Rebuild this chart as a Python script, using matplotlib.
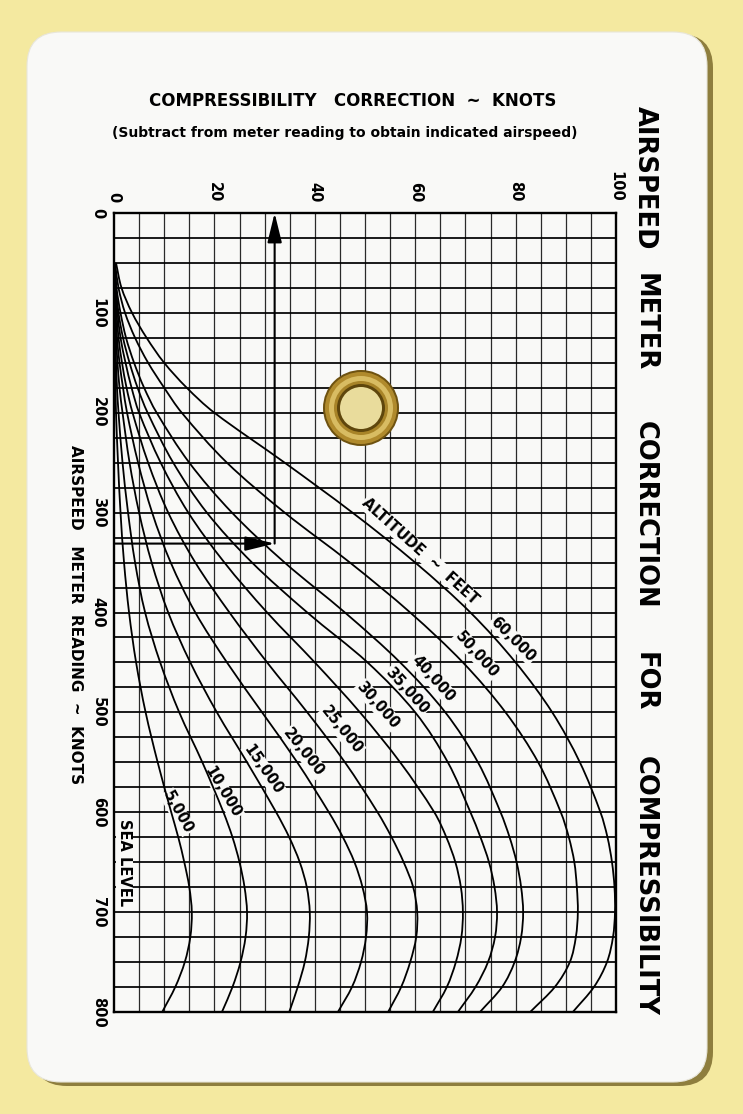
import numpy as np
import matplotlib
matplotlib.use('Agg')
import matplotlib.pyplot as plt
from matplotlib.patches import FancyBboxPatch, Circle, PathPatch
from matplotlib.path import Path

plt.rcParams['font.family'] = ['DejaVu Sans']

# ---------------- data (read from the card) ----------------
airspeed = [50, 75, 100, 125, 150, 175, 200, 250, 300, 350, 400, 450, 500,
            550, 600, 625, 650, 675, 700, 725, 750, 775, 800]

corr_5000 = [0, 0, 0, 0, 0.2, 0.3, 0.4, 0.8, 1.3, 2.0, 3.0, 4.4, 6.3,
             8.7, 11.4, 12.8, 14.0, 15.0, 15.5, 15.2, 14.1, 12.2, 9.6]
corr_10000 = [0, 0, 0, 0.2, 0.4, 0.6, 0.9, 1.7, 2.8, 4.2, 6.2, 9.2, 13.0,
              17.6, 21.8, 23.6, 25.0, 26.0, 26.5, 26.2, 25.2, 23.6, 21.5]
corr_15000 = [0, 0, 0.2, 0.4, 0.7, 1.1, 1.7, 3.1, 5.0, 7.5, 10.8, 15.2, 20.5,
              26.5, 32.3, 34.9, 37.0, 38.4, 39.0, 38.8, 38.0, 36.6, 34.9]
corr_20000 = [0, 0, 0.3, 0.6, 1.1, 1.8, 2.6, 4.8, 7.6, 11.3, 16.2, 22.5, 29.5,
              36.5, 42.8, 45.6, 47.9, 49.5, 50.4, 50.2, 49.2, 47.4, 44.6]
corr_25000 = [0, 0.2, 0.5, 0.9, 1.6, 2.5, 3.7, 6.8, 10.8, 16.2, 23.0, 30.5, 38.5,
              46.0, 52.5, 55.3, 57.7, 59.6, 60.4, 60.2, 59.0, 57.2, 54.6]
corr_30000 = [0, 0.3, 0.7, 1.3, 2.3, 3.5, 5.0, 9.3, 14.8, 22.0, 30.5, 40.0, 49.0,
              57.0, 63.8, 66.2, 68.0, 69.1, 69.5, 69.2, 68.1, 66.3, 63.5]
corr_35000 = [0.1, 0.4, 0.9, 1.8, 3.1, 4.7, 6.7, 11.8, 18.5, 27.5, 38.5, 50.5, 60.0,
              66.5, 71.0, 73.0, 74.7, 75.8, 76.3, 75.9, 74.5, 72.0, 68.5]
corr_40000 = [0.15, 0.5, 1.3, 2.4, 4.0, 6.0, 8.5, 15.0, 23.5, 34.0, 46.0, 57.0, 66.0,
              72.5, 77.0, 78.8, 80.2, 81.1, 81.5, 81.1, 79.8, 77.3, 72.9]
corr_50000 = [0.2, 0.9, 2.2, 4.2, 6.8, 10.0, 13.5, 22.5, 34.0, 47.0, 59.0, 69.5, 78.0,
              84.5, 89.0, 90.6, 91.7, 92.2, 92.4, 92.0, 90.8, 87.8, 82.9]
corr_60000 = [0.4, 1.5, 3.6, 6.5, 10.0, 14.5, 20.0, 34.0, 47.5, 60.0, 71.0, 80.0, 87.3,
              92.8, 96.9, 98.3, 99.2, 99.7, 99.8, 99.4, 98.2, 95.6, 91.4]

curves = [corr_5000, corr_10000, corr_15000, corr_20000, corr_25000,
          corr_30000, corr_35000, corr_40000, corr_50000, corr_60000]

altitude_labels = ['5,000', '10,000', '15,000', '20,000', '25,000',
                   '30,000', '35,000', '40,000', '50,000', '60,000']
label_corr = [12.7, 21.7, 29.7, 37.8, 45.4, 52.6, 58.4, 63.5, 72.3, 79.5]
label_speed = [600, 580, 557, 540, 518, 493, 478, 466, 442, 427]
label_rot = [-61, -59, -55, -52, -51, -49, -48, -48, -48, -45]

x_ticks = [0, 20, 40, 60, 80, 100]
y_ticks = [0, 100, 200, 300, 400, 500, 600, 700, 800]

example_speed = 331
example_corr = 32


def smooth_path(corr, speed):
    """Cubic Hermite curve through the read points, parametrised by airspeed."""
    t = np.asarray(speed, float)
    x = np.asarray(corr, float)
    n = len(t)
    m = np.zeros(n)
    m[0] = (x[1] - x[0]) / (t[1] - t[0])
    m[-1] = (x[-1] - x[-2]) / (t[-1] - t[-2])
    for i in range(1, n - 1):
        m[i] = (x[i + 1] - x[i - 1]) / (t[i + 1] - t[i - 1])
    verts = [(x[0], t[0])]
    codes = [Path.MOVETO]
    for i in range(n - 1):
        h = t[i + 1] - t[i]
        verts += [(x[i] + m[i] * h / 3, t[i] + h / 3),
                  (x[i + 1] - m[i + 1] * h / 3, t[i + 1] - h / 3),
                  (x[i + 1], t[i + 1])]
        codes += [Path.CURVE4] * 3
    return Path(verts, codes)


# ---------------- figure / card ----------------
W, H = 743, 1114
fig = plt.figure(figsize=(W / 100, H / 100), dpi=100)
fig.patch.set_facecolor('#F4E9A0')

bg = fig.add_axes([0, 0, 1, 1])
bg.set_xlim(0, W)
bg.set_ylim(H, 0)
bg.axis('off')

r = 34
shadow = FancyBboxPatch((33 + r, 34 + r), 680 - 2 * r, 1052 - 2 * r,
                        boxstyle=f"round,pad={r}", fc='#8E7E3E', ec='none', zorder=1)
bg.add_patch(shadow)
card = FancyBboxPatch((27 + r, 32 + r), 680 - 2 * r, 1050 - 2 * r,
                      boxstyle=f"round,pad={r}", fc='#F9F9F7', ec='#E8E6DA', lw=0.8, zorder=2)
bg.add_patch(card)

bold = dict(fontweight='bold', color='black')

# top titles
bg.text(353, 101, 'COMPRESSIBILITY   CORRECTION  ~  KNOTS', ha='center', va='center',
        fontsize=12, zorder=5, **bold)
bg.text(345, 133, '(Subtract from meter reading to obtain indicated airspeed)',
        ha='center', va='center', fontsize=10, zorder=5, **bold)

# right title words
for word, yc in [('AIRSPEED', 178), ('METER', 322), ('CORRECTION', 515),
                 ('FOR', 682), ('COMPRESSIBILITY', 886)]:
    bg.text(645, yc, word, rotation=-90, ha='center', va='center',
            fontsize=18.5, zorder=5, **bold)

# left axis label
bg.text(75, 615, 'AIRSPEED   METER  READING  ~  KNOTS', rotation=-90,
        ha='center', va='center', fontsize=11, zorder=5, **bold)

# ---------------- chart ----------------
ax = fig.add_axes([114 / W, 1 - 1012 / H, (616 - 114) / W, (1012 - 213) / H])
ax.set_zorder(3)
ax.patch.set_alpha(0)
ax.set_xlim(0, 100)
ax.set_ylim(800, 0)

for v in np.arange(5, 100, 5):
    ax.axvline(v, color='#2a2a2a', lw=0.9, zorder=1)
for h in np.arange(25, 800, 25):
    ax.axhline(h, color='black', lw=1.25, zorder=1)
for s in ax.spines.values():
    s.set_linewidth(1.7)
    s.set_color('black')

for vals in curves:
    ax.add_patch(PathPatch(smooth_path(vals, airspeed), fc='none', ec='black',
                           lw=1.3, zorder=4, capstyle='butt'))

for lab, cx, cy, rot in zip(altitude_labels, label_corr, label_speed, label_rot):
    ax.text(cx, cy, lab, rotation=rot, rotation_mode='anchor', ha='center', va='center',
            fontsize=10.5, zorder=3,
            bbox=dict(fc='#F9F9F7', ec='none', pad=0.5), **bold)

ax.text(61, 339, 'ALTITUDE  ~  FEET', rotation=-42, rotation_mode='anchor',
        ha='center', va='center', fontsize=10.5, zorder=3,
        bbox=dict(fc='#F9F9F7', ec='none', pad=0.5), **bold)
ax.text(2.1, 650, 'SEA LEVEL', rotation=-90, ha='center', va='center',
        fontsize=10.5, zorder=3, bbox=dict(fc='#F9F9F7', ec='none', pad=0.5), **bold)

# example arrows
ax.annotate('', xy=(example_corr, example_speed), xytext=(0, example_speed),
            arrowprops=dict(arrowstyle='-|>,head_length=0.9,head_width=0.22',
                            color='black', lw=1.5, mutation_scale=20, shrinkA=0, shrinkB=0),
            zorder=5)
ax.annotate('', xy=(example_corr, 0), xytext=(example_corr, example_speed),
            arrowprops=dict(arrowstyle='-|>,head_length=0.9,head_width=0.22',
                            color='black', lw=1.5, mutation_scale=20, shrinkA=0, shrinkB=0),
            zorder=5)

ax.set_xticks(x_ticks)
ax.set_xticklabels([str(t) for t in x_ticks])
ax.xaxis.set_ticks_position('top')
ax.tick_params(axis='x', length=0, pad=8, labelsize=10.5, labelrotation=-90)
ax.set_yticks(y_ticks)
ax.set_yticklabels([str(t) for t in y_ticks])
ax.tick_params(axis='y', length=0, pad=6, labelsize=10.5, labelrotation=-90)
for lbl in ax.get_xticklabels() + ax.get_yticklabels():
    lbl.set_fontweight('bold')
for lbl in ax.get_yticklabels():
    lbl.set_va('center')

# ---------------- eyelet (overlay) ----------------
ov = fig.add_axes([0, 0, 1, 1])
ov.set_zorder(10)
ov.set_xlim(0, W)
ov.set_ylim(H, 0)
ov.axis('off')
ov.patch.set_alpha(0)
cx0, cy0 = 361, 408
for rad, col in [(38, '#6E5210'), (36, '#B08A2C'), (32, '#D8BC62'),
                 (27, '#A88428'), (24, '#5E460C'), (21, '#E9DC9C')]:
    ov.add_patch(Circle((cx0, cy0), rad, fc=col, ec='none'))

fig.savefig('out.png', dpi=100)
